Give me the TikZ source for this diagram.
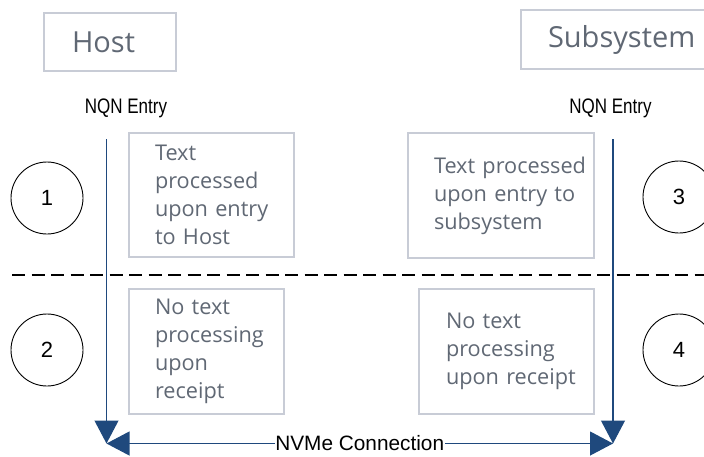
\documentclass[tikz,border=0pt]{standalone}
\usepackage{fontspec}
\setmainfont{Open Sans}
\newfontfamily\arialf{Liberation Sans}
\usetikzlibrary{arrows.meta}
\definecolor{boxtext}{RGB}{96,104,116}
\definecolor{boxline}{RGB}{200,204,214}
\definecolor{navy}{RGB}{31,73,125}
\begin{document}
\begin{tikzpicture}[x=1pt,y=-1pt,
  titlebox/.style={draw=boxline,line width=1.5pt,text=boxtext,font=\fontsize{29}{34}\selectfont,inner xsep=0pt,align=left},
  textbox/.style={draw=boxline,line width=1.5pt,text=boxtext,font=\fontsize{21.7}{28}\selectfont,inner xsep=0pt,align=left},
  numcircle/.style={circle,draw=black,line width=0.9pt,minimum size=72pt,inner sep=0pt,font=\arialf\fontsize{22}{26}\selectfont},
  nqn/.style={font=\arialf\fontsize{21}{24}\selectfont,inner sep=1pt},
  flow/.style={draw=navy,line width=1.1pt,-{Triangle[length=23pt,width=24pt]}},
  conn/.style={draw=navy,line width=1.1pt,{Triangle[length=23pt,width=24pt]}-{Triangle[length=23pt,width=24pt]}},
  divider/.style={draw=black,line width=2.2pt,dash pattern=on 13pt off 6.5pt}]
\useasboundingbox (0,0) rectangle (704,456);

% divider
\coordinate (dl) at (12,275);
\coordinate (dr) at (710,275);
\draw[divider] (dl) -- (dr);

% title boxes
\node[titlebox,text width=76pt,minimum width=132pt,minimum height=58pt] (host) at (110,42) {Host};
\node[titlebox,text width=146pt,minimum width=200pt,minimum height=59pt] (subsys) at (621,39.5) {Subsystem};

% NQN labels
\node[nqn] (nqnl) at (126,108.5) {\scalebox{0.81}[1]{NQN Entry}};
\node[nqn] (nqnr) at (610.5,108.5) {\scalebox{0.81}[1]{NQN Entry}};

% text boxes
\node[textbox,text width=113pt,minimum width=165pt,minimum height=124pt] (b1) at (211.5,195) {\mbox{Text}\\\mbox{processed}\\\mbox{upon entry}\\\mbox{to Host}};
\node[textbox,text width=103pt,minimum width=155pt,minimum height=125pt] (b2) at (206.5,351.5) {\mbox{No text}\\\mbox{processing}\\\mbox{upon}\\\mbox{receipt}};
\node[textbox,text width=134pt,minimum width=186pt,minimum height=125pt] (b3) at (501,195.5) {\mbox{Text processed}\\\mbox{upon entry to}\\\mbox{subsystem}};
\node[textbox,text width=121pt,minimum width=175pt,minimum height=125pt] (b4) at (506.5,351.5) {\mbox{No text}\\\mbox{processing}\\\mbox{upon receipt}};

% circles
\node[numcircle] (c1) at (47,198) {1};
\node[numcircle] (c2) at (47,350) {2};
\node[numcircle] (c3) at (679,197) {3};
\node[numcircle] (c4) at (679,350) {4};

% flows
\coordinate (ltop) at (106.5,139);
\coordinate (lbot) at (106.5,443.5);
\coordinate (rtop) at (613,139);
\coordinate (rbot) at (613,443.5);
\draw[flow] (ltop) -- (lbot);
\draw[flow] (rtop) -- (rbot);
\draw[conn] (lbot) -- node[fill=white,inner xsep=0.5pt,inner ysep=2pt,font=\arialf\fontsize{20.8}{24}\selectfont,text=black] (nvme) {NVMe Connection} (rbot);
\end{tikzpicture}
\end{document}
